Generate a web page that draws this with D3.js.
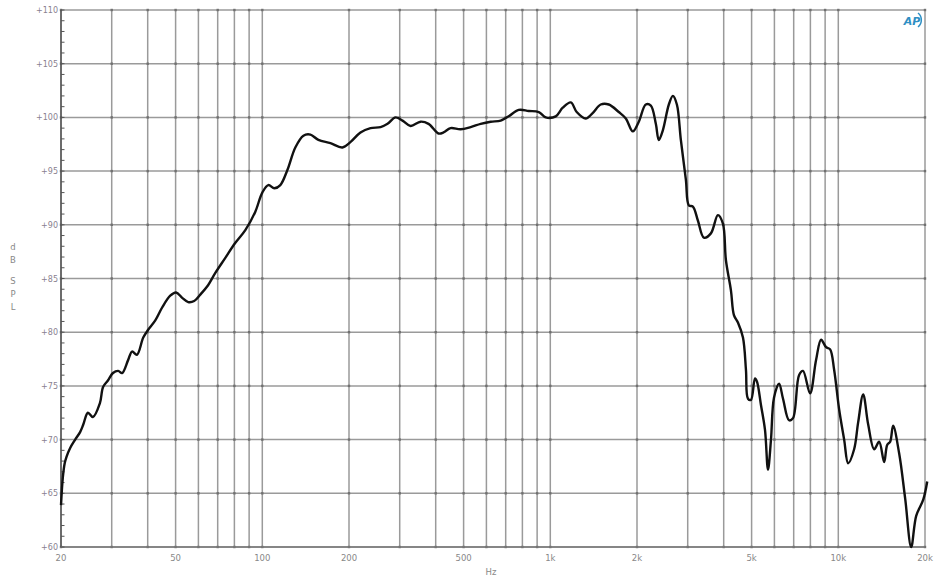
<!DOCTYPE html>
<html><head><meta charset="utf-8">
<script src="https://cdn.jsdelivr.net/npm/d3@7"></script>
<style>body{margin:0;background:#fff}svg{display:block}</style>
</head><body>
<script>
const freqs = [20,20.3,20.6,20.9,21.5,22.4,23.3,23.9,24.8,25.8,27.3,28.0,29.1,30.3,31.6,32.6,34.2,35.3,36.7,38.6,40.1,42.5,44.9,47.9,50.2,52.7,55.3,58.0,60.9,64.9,68.6,74.3,80.5,87.3,94.5,100,104.9,110.1,115.5,122.2,130.2,138.9,146.9,156.6,172.4,189.7,202.2,219.2,237.5,257.4,272.2,290.2,306.9,327.2,354.4,377.8,409.4,425.9,450.5,488.1,528.9,573.1,620.9,672.6,716.9,776.8,841.7,911.9,964.3,1044.6,1104.6,1178,1235,1327,1403,1497,1596,1729,1829,1934,2029,2146,2234,2325,2381,2459,2580,2664,2751,2840,2956,3028,3127,3254,3414,3611,3819,3975,4072,4238,4341,4482,4666,4779,4857,4975,5137,5220,5390,5565,5700,5838,5980,6225,6428,6744,6963,7305,7543,7977,8371,8714,9071,9366,9672,10068,10479,10820,11350,11720,12200,12700,13320,13860,14430,14780,15140,15500,16270,17070,17910,18640,19720,20360];
const spl = [63.9,66.5,67.8,68.4,69.2,70.0,70.7,71.4,72.5,72.1,73.4,74.9,75.5,76.2,76.4,76.2,77.4,78.2,77.9,79.5,80.2,81.1,82.3,83.4,83.7,83.2,82.8,82.9,83.5,84.4,85.5,86.9,88.3,89.5,91.2,93.0,93.7,93.4,93.7,95.1,97.2,98.3,98.4,97.9,97.6,97.2,97.7,98.6,99.0,99.1,99.4,100.0,99.7,99.2,99.6,99.4,98.5,98.6,99.0,98.9,99.1,99.4,99.6,99.7,100.1,100.7,100.6,100.5,100.0,100.1,100.9,101.4,100.5,99.9,100.4,101.2,101.2,100.5,99.9,98.7,99.6,101.2,101.1,99.4,97.9,98.8,101.2,102.0,101.2,97.9,94.2,91.8,91.7,90.4,88.8,89.2,90.9,90.1,86.7,83.9,81.6,80.9,79.5,76.5,73.8,73.7,75.7,75.4,73.2,70.9,67.2,70.0,73.9,75.2,73.8,71.8,72.0,76.0,76.4,74.3,77.4,79.3,78.6,78.4,76.5,72.8,70.0,67.8,69.1,71.6,74.2,71.4,69.1,69.8,67.9,69.5,69.8,71.3,68.7,64.5,60.0,62.9,64.4,66.1];
const xGrid = [20,30,40,50,60,70,80,90,100,200,300,400,500,600,700,800,900,1000,2000,3000,4000,5000,6000,7000,8000,9000,10000,20000];
const xLabels = [[20,"20"],[50,"50"],[100,"100"],[200,"200"],[500,"500"],[1000,"1k"],[2000,"2k"],[5000,"5k"],[10000,"10k"],[20000,"20k"]];
const yTicks = [60,65,70,75,80,85,90,95,100,105,110];

const W=938,H=583;
const svg=d3.select("body").append("svg").attr("width",W).attr("height",H);
const x=d3.scaleLog().domain([20,20000]).range([61,925]);
const y=d3.scaleLinear().domain([60,110]).range([547,10]);

const g=svg.append("g");
// grid
g.selectAll(".vg").data(xGrid).join("line")
 .attr("x1",d=>x(d)).attr("x2",d=>x(d)).attr("y1",10).attr("y2",547)
 .attr("stroke","#9a9a9a").attr("stroke-width",1.5);
g.selectAll(".hg").data(yTicks).join("line")
 .attr("x1",61).attr("x2",925).attr("y1",d=>y(d)).attr("y2",d=>y(d))
 .attr("stroke","#9a9a9a").attr("stroke-width",1.5);
// intersection dots
const inter=[];xGrid.forEach(f=>yTicks.forEach(v=>inter.push([f,v])));
g.selectAll(".dot").data(inter).join("rect")
 .attr("x",d=>x(d[0])-1.2).attr("y",d=>y(d[1])-1.2).attr("width",2.4).attr("height",2.4)
 .attr("fill","#707070");
// left axis with minor ticks
g.append("line").attr("x1",61).attr("x2",61).attr("y1",10).attr("y2",547).attr("stroke","#555").attr("stroke-width",1.5);
g.append("line").attr("x1",61).attr("x2",925).attr("y1",547).attr("y2",547).attr("stroke","#777").attr("stroke-width",1.5);
g.selectAll(".mt").data(d3.range(60,111,1)).join("line")
 .attr("x1",61).attr("x2",64.5).attr("y1",d=>y(d)).attr("y2",d=>y(d))
 .attr("stroke","#555").attr("stroke-width",1);
// y labels
g.selectAll(".yl").data(yTicks).join("text")
 .attr("x",58).attr("y",d=>y(d)+3).attr("text-anchor","end")
 .attr("font-family","DejaVu Sans, sans-serif").attr("font-size",8).attr("fill","#8a7f90")
 .text(d=>"+"+d);
// x labels
g.selectAll(".xl").data(xLabels).join("text")
 .attr("x",d=>x(d[0])).attr("y",561).attr("text-anchor","middle")
 .attr("font-family","DejaVu Sans, sans-serif").attr("font-size",8.5).attr("fill","#888")
 .text(d=>d[1]);
g.append("text").attr("x",491).attr("y",575).attr("text-anchor","middle")
 .attr("font-family","DejaVu Sans, sans-serif").attr("font-size",8.5).attr("fill","#888").text("Hz");
// y title stacked letters
const yt=[["d",250],["B",263],["S",284],["P",297],["L",310]];
g.selectAll(".yt").data(yt).join("text")
 .attr("x",13).attr("y",d=>d[1]).attr("text-anchor","middle")
 .attr("font-family","DejaVu Sans, sans-serif").attr("font-size",8.5).attr("fill","#888")
 .text(d=>d[0]);
// logo
svg.append("text").attr("x",912).attr("y",25).attr("text-anchor","middle")
 .attr("font-family","DejaVu Sans, sans-serif").attr("font-size",11).attr("font-weight","bold")
 .attr("font-style","italic").attr("fill","#2f8fc4").text("AP");
svg.append("path").attr("d","M918,13 A9,9 0 0 1 918,27").attr("fill","none").attr("stroke","#2f8fc4").attr("stroke-width",1.5);
// curve
const pts=freqs.map((f,i)=>[f,spl[i]]);
svg.append("path").datum(pts)
 .attr("d",d3.line().x(d=>x(d[0])).y(d=>y(d[1])).curve(d3.curveCatmullRom.alpha(0.5)))
 .attr("fill","none").attr("stroke","#111").attr("stroke-width",2.4).attr("stroke-linejoin","round");
</script>
</body></html>
